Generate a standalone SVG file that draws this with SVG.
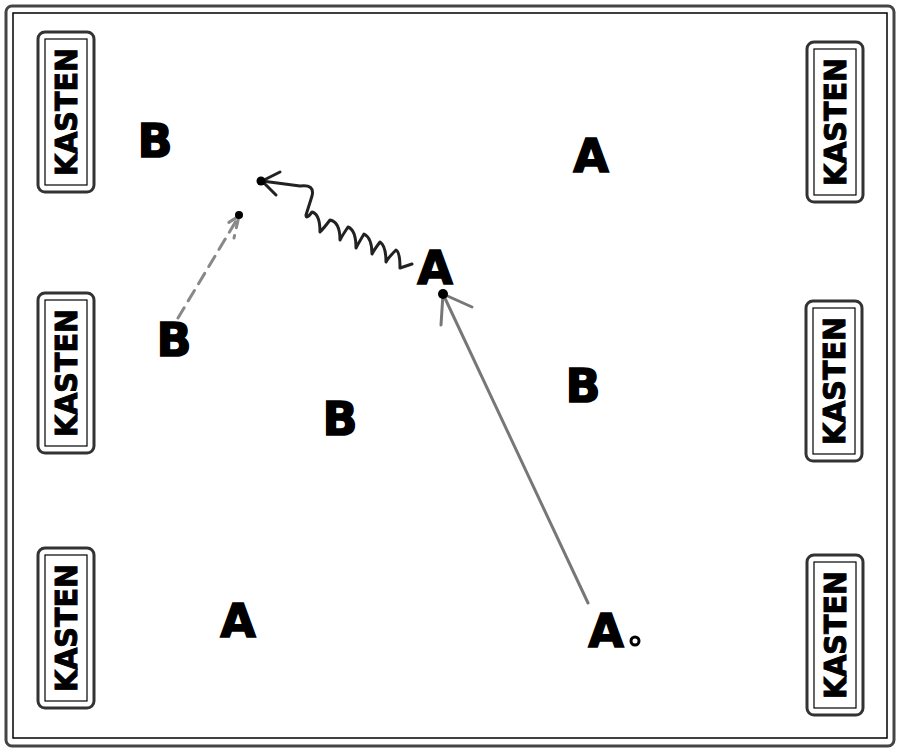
<svg xmlns="http://www.w3.org/2000/svg" width="900" height="752" viewBox="0 0 900 752">
<defs>
<style>
.frame{fill:none;stroke:#444;stroke-width:3}
.frame2{fill:none;stroke:#000;stroke-width:1.5}
.kbox{fill:#fff;stroke:#333;stroke-width:3}
.kin{fill:none;stroke:#000;stroke-width:1.2}
.ktext{font-family:"DejaVu Sans","Liberation Sans",sans-serif;font-weight:bold;font-size:30px;fill:#000;stroke:#000;stroke-width:1}
.lbl{font-family:"DejaVu Sans","Liberation Sans",sans-serif;font-weight:bold;font-size:46px;fill:#000;stroke:#000;stroke-width:1.5}
.conn{fill:none;stroke:#777;stroke-width:3;stroke-linecap:round}
.wave{fill:none;stroke:#222;stroke-width:3;stroke-linecap:round;stroke-linejoin:round}
.dash{fill:none;stroke:#888;stroke-width:3;stroke-dasharray:12 8;stroke-linecap:round}
</style>
<g id="kasten">
<rect class="kbox" x="-28" y="-80" width="56" height="160" rx="7"/>
<rect class="kin" x="-21" y="-73" width="42" height="146"/>
<text class="ktext" transform="rotate(-90)" x="0" y="11" text-anchor="middle" textLength="128" lengthAdjust="spacingAndGlyphs">KASTEN</text>
</g>
</defs>
<rect x="0" y="0" width="900" height="752" fill="#fff"/>
<rect class="frame" x="6" y="6" width="888" height="740" rx="6"/>
<rect class="frame2" x="13" y="13" width="874" height="725"/>
<g id="k1"><use href="#kasten" x="66" y="112"/></g>
<g id="k2"><use href="#kasten" x="66" y="373"/></g>
<g id="k3"><use href="#kasten" x="66" y="628"/></g>
<g id="k4"><use href="#kasten" x="835" y="122"/></g>
<g id="k5"><use href="#kasten" x="834" y="381"/></g>
<g id="k6"><use href="#kasten" x="835" y="635"/></g>
<g id="n1"><text class="lbl" x="155" y="157" text-anchor="middle">B</text></g>
<g id="n2"><text class="lbl" x="591" y="172" text-anchor="middle">A</text></g>
<g id="n3"><text class="lbl" x="435" y="284" text-anchor="middle">A</text></g>
<g id="n4"><text class="lbl" x="174" y="356" text-anchor="middle">B</text></g>
<g id="n5"><text class="lbl" x="583" y="402" text-anchor="middle">B</text></g>
<g id="n6"><text class="lbl" x="340" y="435" text-anchor="middle">B</text></g>
<g id="n7"><text class="lbl" x="238" y="637" text-anchor="middle">A</text></g>
<g id="n8"><text class="lbl" x="606" y="647" text-anchor="middle">A</text><circle cx="635" cy="641" r="4" fill="#fff" stroke="#000" stroke-width="3"/></g>
<g id="connectors">
<path class="conn" d="M588,603 L443,294"/>
<path class="conn" d="M443,294 L472,307 M443,294 L441,325"/>
<circle cx="443" cy="294" r="5" fill="#000"/>
<path class="wave" d="M412,264 L400,268 Q400,252 396,250 Q388,258 386,262 Q386,246 380,242 Q374,250 372,254 Q372,238 364,234 Q358,244 356,248 Q356,230 348,227 Q342,236 340,240 Q340,222 330,220 Q324,228 320,232 Q320,214 312,212 Q306,220 306,215 L312,196 Q315,184 300,186 L262,181"/>
<path class="wave" d="M262,181 L280,172 M262,181 L276,195"/>
<circle cx="261" cy="181" r="4.5" fill="#000"/>
<path class="dash" d="M178,318 L239,216"/>
<path class="dash" d="M239,216 L223,226 M239,216 L234,238" stroke-dasharray="none"/>
<circle cx="239" cy="215" r="4" fill="#000"/>
</g>
</svg>
